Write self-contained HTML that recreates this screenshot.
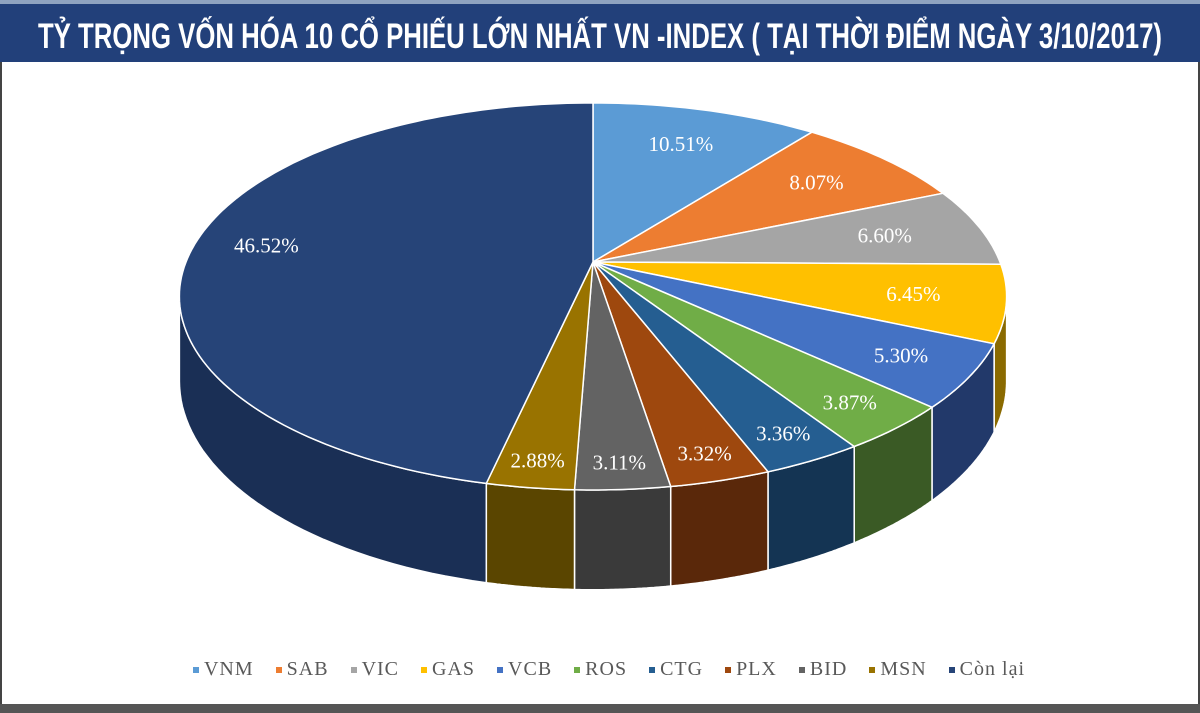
<!DOCTYPE html>
<html><head><meta charset="utf-8"><style>
body{margin:0;width:1200px;height:713px;overflow:hidden;background:#fff;font-family:"Liberation Sans",sans-serif}
#frame{position:absolute;left:0;top:0;width:1196px;height:704px;border-left:2px solid #444;border-right:2px solid #444;background:#fff}
#title{position:absolute;left:0;top:4px;width:1200px;height:58px;background:#22407a}
#bottom{position:absolute;left:0;top:704px;width:1200px;height:9px;background:#555}
#topline{position:absolute;left:0;top:0;width:1200px;height:4px;background:#8fa3c0}
#legend{position:absolute;left:0;top:658px;width:1218px;text-align:center;font:20px "Liberation Serif",serif;color:#595959;letter-spacing:1px}
#legend span.e{margin:0 11px;white-space:nowrap}
#legend i{display:inline-block;width:6px;height:6px;margin-right:5px;vertical-align:middle}
</style></head><body>
<div id="frame"></div>
<div id="topline"></div>
<div id="title"><svg width="1200" height="58"><text x="38" y="44" textLength="1124" lengthAdjust="spacingAndGlyphs" fill="#fff" font-family="Liberation Sans Narrow, Liberation Sans, sans-serif" font-weight="bold" font-size="35">TỶ TRỌNG VỐN HÓA 10 CỔ PHIẾU LỚN NHẤT VN -INDEX ( TẠI THỜI ĐIỂM NGÀY 3/10/2017)</text></svg></div>
<svg id="pie" width="1200" height="713" style="position:absolute;left:0;top:0"></svg>
<div id="legend"></div>
<div id="bottom"></div>
<script>
const categories=["VNM","SAB","VIC","GAS","VCB","ROS","CTG","PLX","BID","MSN","Còn lại"];
const values=[10.51,8.07,6.60,6.45,5.30,3.87,3.36,3.32,3.11,2.88,46.52];
const labels=["10.51%","8.07%","6.60%","6.45%","5.30%","3.87%","3.36%","3.32%","3.11%","2.88%","46.52%"];
const colors=["#5b9bd5","#ed7d31","#a5a5a5","#ffc000","#4472c4","#70ad47","#255e91","#9e480e","#636363","#997300","#264478"];
const sides=["#3a6690","#8c4a1d","#555","#8a6a00","#22396a","#3a5a25","#143453","#5a280a","#3a3a3a","#5a4500","#1a2f55"];
const NS="http://www.w3.org/2000/svg";
const svg=document.getElementById('pie');
const cx=593,cy=262,A=407,B=187.4,K=0.178,D=82;
const total=values.reduce((a,b)=>a+b,0);
function pt(a,f,down){f=f||1;const x=Math.sin(a)*f,y=-Math.cos(a)*f;const w=1-K*y;return [cx+A*x/w,cy+B*y/w+(down?D/w:0)];}
let angs=[];let acc=0;
values.forEach(v=>{const a1=acc/total*2*Math.PI;acc+=v;angs.push([a1,acc/total*2*Math.PI]);});
let amax=0,amin=0,xmax=-1e9,xmin=1e9;
for(let k=0;k<3600;k++){const a=k/3600*2*Math.PI;const p=pt(a);if(p[0]>xmax){xmax=p[0];amax=a;}if(p[0]<xmin){xmin=p[0];amin=a;}}
angs.forEach(([a1,a2],i)=>{
  const s=Math.max(a1,amax),e=Math.min(a2,amin);
  if(e<=s)return;
  let d="";const n=40;
  for(let k=0;k<=n;k++){const p=pt(s+(e-s)*k/n);d+=(k?"L":"M")+p[0].toFixed(1)+","+p[1].toFixed(1);}
  for(let k=n;k>=0;k--){const p=pt(s+(e-s)*k/n,1,true);d+="L"+p[0].toFixed(1)+","+p[1].toFixed(1);}
  const el=document.createElementNS(NS,'path');
  
  
  el.setAttribute('d',d+"Z");el.setAttribute('fill',sides[i]);el.setAttribute('stroke','#fff');el.setAttribute('stroke-width','1.5');
  svg.appendChild(el);
});
angs.forEach(([a1,a2],i)=>{
  let d="M"+cx+","+cy;const n=Math.max(4,Math.ceil((a2-a1)*40));
  for(let k=0;k<=n;k++){const p=pt(a1+(a2-a1)*k/n);d+="L"+p[0].toFixed(1)+","+p[1].toFixed(1);}
  const el=document.createElementNS(NS,'path');
  
  
  el.setAttribute('d',d+"Z");el.setAttribute('fill',colors[i]);el.setAttribute('stroke','#fff');el.setAttribute('stroke-width','1.5');
  svg.appendChild(el);
});
angs.forEach(([a1,a2],i)=>{
  const m=(a1+a2)/2;
  let f=0.75+0.15*Math.max(0,-Math.cos(m));
  if(values[i]/total>0.4)f=0.82;
  const p=pt(m,f);
  const t=document.createElementNS(NS,'text');
  
  
  t.setAttribute('x',p[0].toFixed(1));t.setAttribute('y',(p[1]+7).toFixed(1));t.setAttribute('text-anchor','middle');
  t.setAttribute('fill','#fff');t.setAttribute('font-family','Liberation Serif, serif');t.setAttribute('font-size','21');
  t.textContent=labels[i];svg.appendChild(t);
});
const lg=document.getElementById('legend');
categories.forEach((c,i)=>{
  const s=document.createElement('span');s.className='e';
  
  
  s.innerHTML='<i style="background:'+colors[i]+'"></i>'+c;lg.appendChild(s);
});
</script>
</body></html>
